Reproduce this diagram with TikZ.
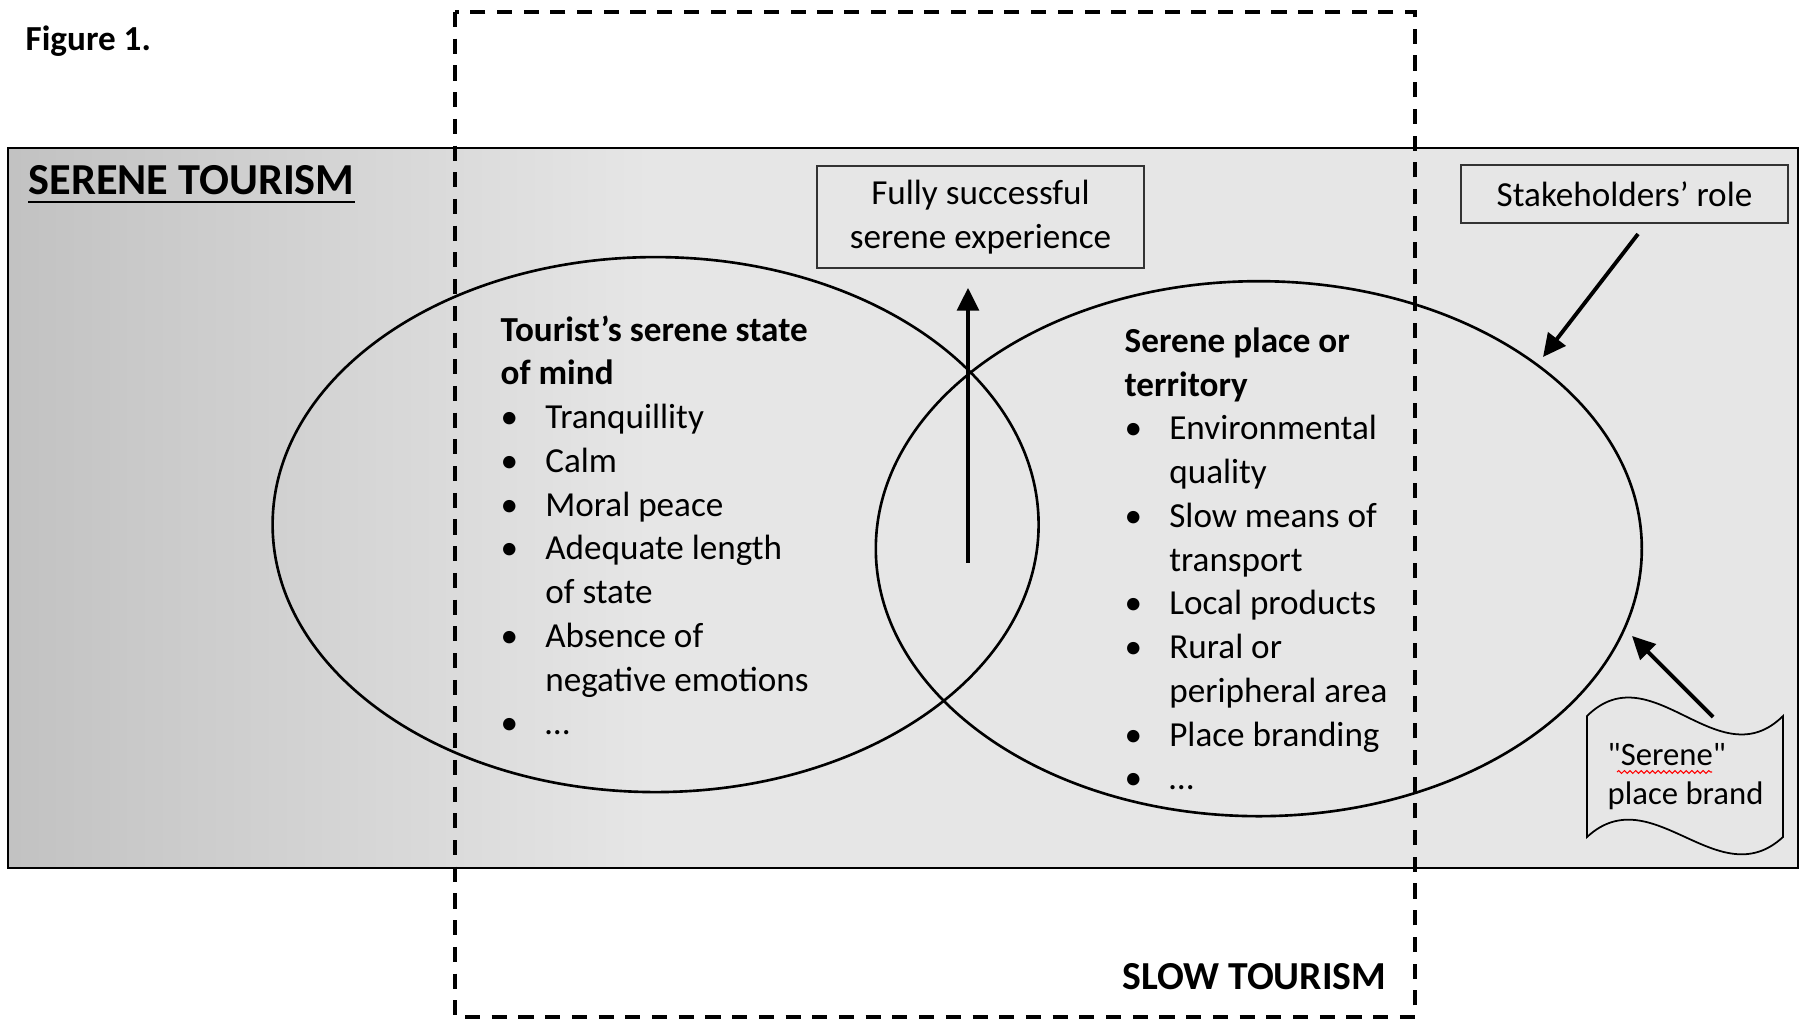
\documentclass[tikz,border=0pt]{standalone}
\usepackage{fontspec}
\setmainfont{Carlito}[Ligatures=TeXOff]
\usetikzlibrary{arrows.meta,shapes.geometric,decorations.pathmorphing}

\definecolor{bglight}{gray}{0.902}
\definecolor{bgdark}{gray}{0.76}
\newcommand{\itm}{\makebox[12.7pt][l]{\textbullet}}
\newcommand{\cnt}{\hspace*{12.7pt}}

\begin{document}
\begin{tikzpicture}[x=0.1mm, y=-0.1mm,
    txt/.style={inner sep=0pt, font=\fontsize{10}{12.45}\selectfont},
    listtext/.style={txt, anchor=base west, align=left},
    labelbox/.style={txt, draw=black!80, line width=0.5pt, minimum width=32.7mm, align=center},
    oval/.style={draw, ellipse, line width=0.75pt, inner sep=0pt, minimum width=76.6mm, minimum height=53.5mm},
    arr/.style={line width=1.1pt, -{Triangle[length=6.5pt, width=6.2pt]}},
    slowbox/.style={line width=1.4pt, dash pattern=on 4.3pt off 3.3pt}
]
\useasboundingbox (0,0) rectangle (1800,1022);

% serene tourism area
\fill[bglight] (8,148) rectangle (1798,868);
\shade[left color=bgdark, right color=bglight] (8,148) rectangle (650,868);
\draw[line width=0.6pt] (8,148) rectangle (1798,868);

\node[txt, anchor=base west, font=\bfseries\fontsize{10}{12}\selectfont] (fig) at (25,51) {Figure 1.};
\node[txt, anchor=base west, font=\bfseries\fontsize{12.6}{14}\selectfont] (serene) at (28,195) {SERENE TOURISM};
\draw[line width=0.7pt] ([yshift=-2pt]serene.base west) -- ([yshift=-2pt]serene.base east);

% the two ovals
\node[oval] (mind) at (655.6,524.6) {};
\node[oval] (place) at (1258.8,548.7) {};

% base = last line
\node[listtext] (mindtxt) at (500,735) {\textbf{Tourist’s serene state}\\
    \textbf{of mind}\\
    \itm Tranquillity\\
    \itm Calm\\
    \itm Moral peace\\
    \itm Adequate length\\
    \cnt of state\\
    \itm Absence of\\
    \cnt negative emotions\\
    \itm …};

\node[listtext] (placetxt) at (1124,790) {\textbf{Serene place or}\\
    \textbf{territory}\\
    \itm Environmental\\
    \cnt quality\\
    \itm Slow means of\\
    \cnt transport\\
    \itm Local products\\
    \itm Rural or\\
    \cnt peripheral area\\
    \itm Place branding\\
    \itm …};

% boxes on top
\node[labelbox, minimum height=10.2mm] (succ) at (980.5,217) {Fully successful\\serene experience};
\node[labelbox, minimum height=5.8mm] (stake) at (1624.5,194) {Stakeholders’ role};

\coordinate (core) at (968,563);
\draw[arr] (core) -- ([yshift=-5.4pt]core |- succ.south);

\coordinate (stakefoot) at (1638,234);
\coordinate (stakehit) at (1543,357);
\draw[arr] (stakefoot) -- (stakehit);

% place brand
\draw[line width=0.5pt] (1587,716) .. controls (1652,652) and (1718,780) .. (1783,716)
    -- (1783,837) .. controls (1718,897) and (1652,777) .. (1587,837) -- cycle;
\node[listtext, font=\fontsize{9.3}{11.2}\selectfont] (brand) at (1607,805) {"Serene"\\place brand};
\draw[red, line width=0.3pt, decorate, decoration={snake, amplitude=0.4pt, segment length=1.6pt}] (1617,772) -- (1712,772);

\coordinate (brandfoot) at (1713,717);
\coordinate (brandhit) at (1632,636);
\draw[arr] (brandfoot) -- (brandhit);

% slow tourism
\draw[slowbox] (455,12) rectangle (1415,1017);
\node[txt, anchor=base east, font=\bfseries\fontsize{11.3}{13}\selectfont] (slow) at (1387,989) {SLOW TOURISM};

\end{tikzpicture}
\end{document}
